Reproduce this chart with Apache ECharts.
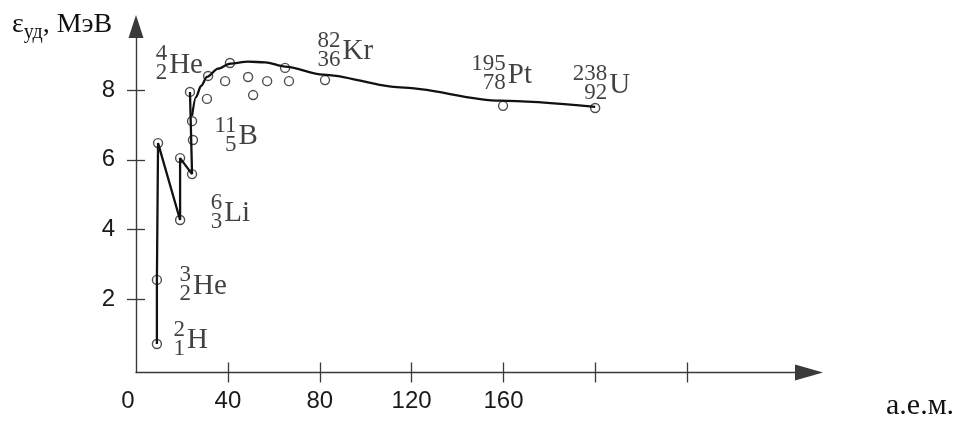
<!DOCTYPE html>
<html>
<head>
<meta charset="utf-8">
<script src="https://cdn.jsdelivr.net/npm/echarts@6/dist/echarts.min.js"></script>
<style>
  html, body { margin: 0; padding: 0; background: #fff; }
  #chart { width: 965px; height: 422px; }
</style>
</head>
<body>
<div id="chart"></div>
<script>
// ---- data ----
// stepped light-nuclei line (A, binding energy per nucleon, MeV)
const stepA = [9.1, 9.1, 9.6, 19.2, 19.2, 24.4, 23.5];
const stepE = [0.71, 2.55, 6.48, 4.27, 6.05, 5.59, 7.95];

// smooth curve
const curveA = [24.4, 26.1, 28.3, 30.9, 35.7, 40.9, 48.8, 56.3, 64.9, 81.4, 115.0, 158.5, 199.9];
const curveE = [7.26, 7.80, 8.12, 8.38, 8.62, 8.76, 8.82, 8.80, 8.68, 8.45, 8.08, 7.70, 7.52];

// unlabelled nuclei (circles)
const dotA = [9.6, 19.2, 24.4, 24.4, 31.4, 30.9, 38.8, 40.9, 48.8, 51.0, 57.1, 64.9, 66.6];
const dotE = [6.48, 6.05, 5.59, 7.11, 8.41, 7.75, 8.26, 8.78, 8.38, 7.86, 8.26, 8.64, 8.26];

// labelled nuclei
const isoA    = [9.1, 9.1, 19.2, 23.5, 24.8, 82.3, 159.8, 199.9];
const isoE    = [0.71, 2.55, 4.27, 7.95, 6.57, 8.29, 7.55, 7.49];
const isoMass = ['2', '3', '6', '4', '11', '82', '195', '238'];
const isoZ    = ['1', '2', '3', '2', '5', '36', '78', '92'];
const isoSym  = ['H', 'He', 'Li', 'He', 'B', 'Kr', 'Pt', 'U'];

// axis ticks / labels
const xTicks = [40, 80, 120, 160, 200, 240];
const xLabels = [0, 40, 80, 120, 160];
const yTicks = [2, 4, 6, 8];
const yLabels = [2, 4, 6, 8];
const yTitle = ['ε', 'уд', ', МэВ'];
const xTitle = 'а.е.м.';

// ---- layout / style (not data) ----
const labelOffsets = [[51, -24], [70, -14], [70, -27], [13, -47], [65, -24], [48, -49], [29, -51], [35, -43]];
const SERIF = "'Liberation Serif', 'Times New Roman', serif";
const SANS = "'Liberation Sans', Arial, sans-serif";
const INK = '#111';
const AXIS = '#3a3a3a';

const zip = (a, b) => a.map((v, i) => [v, b[i]]);

const isoData = isoA.map((a, i) => ({
  value: [a, isoE[i]],
  label: { offset: labelOffsets[i] },
  mass: isoMass[i], z: isoZ[i], sym: isoSym[i]
}));

const xr = { min: 0, max: 293 };
const yr = { min: -0.11, max: 9.83 };

const chart = echarts.init(document.getElementById('chart'), null, { renderer: 'canvas' });
chart.setOption({
  animation: false,
  backgroundColor: '#fff',
  title: [
    {
      left: 12, top: 10, padding: 0,
      text: '{e|' + yTitle[0] + '}{s|' + yTitle[1] + '}{t|' + yTitle[2] + '}',
      textStyle: {
        fontWeight: 'normal',
        rich: {
          e: { fontFamily: SERIF, fontSize: 28, fontWeight: 'normal', lineHeight: 30, color: INK },
          s: { fontFamily: SERIF, fontSize: 20, fontWeight: 'normal', lineHeight: 30, color: INK, padding: [16, 0, 0, 0] },
          t: { fontFamily: SERIF, fontSize: 28, fontWeight: 'normal', lineHeight: 30, color: INK }
        }
      }
    },
    {
      left: 886, top: 391, padding: 0,
      text: xTitle,
      textStyle: { fontFamily: SERIF, fontSize: 30, lineHeight: 30, fontWeight: 'normal', color: INK }
    }
  ],
  grid: { left: 136, right: 156, top: 26.5, bottom: 49.5, containLabel: false },
  xAxis: [
    {
      type: 'value', min: xr.min, max: xr.max,
      splitLine: { show: false },
      axisLine: { onZero: false, lineStyle: { color: AXIS, width: 1.4 }, symbol: ['none', 'triangle'], symbolSize: [16, 28] },
      axisTick: { show: true, length: 10, customValues: xTicks, lineStyle: { color: AXIS, width: 1.3 } },
      axisLabel: {
        customValues: xLabels, margin: 17, color: '#1a1a1a', fontFamily: SANS, fontSize: 24,
        formatter: v => v === 0 ? '{z|0}' : String(v),
        rich: { z: { fontFamily: SANS, fontSize: 24, color: '#1a1a1a', padding: [0, 16, 0, 0] } }
      }
    },
    {
      type: 'value', min: xr.min, max: xr.max, position: 'bottom',
      splitLine: { show: false },
      axisLine: { show: false, onZero: false },
      axisTick: { show: true, inside: true, length: 10, customValues: xTicks, lineStyle: { color: AXIS, width: 1.3 } },
      axisLabel: { show: false }
    }
  ],
  yAxis: [
    {
      type: 'value', min: yr.min, max: yr.max,
      splitLine: { show: false },
      axisLine: { onZero: false, lineStyle: { color: AXIS, width: 1.4 }, symbol: ['none', 'triangle'], symbolSize: [15, 23] },
      axisTick: { show: true, length: 9, customValues: yTicks, lineStyle: { color: AXIS, width: 1.3 } },
      axisLabel: { customValues: yLabels, margin: 21, color: '#1a1a1a', fontFamily: SANS, fontSize: 24 }
    },
    {
      type: 'value', min: yr.min, max: yr.max, position: 'left',
      splitLine: { show: false },
      axisLine: { show: false, onZero: false },
      axisTick: { show: true, inside: true, length: 9, customValues: yTicks, lineStyle: { color: AXIS, width: 1.3 } },
      axisLabel: { show: false }
    }
  ],
  series: [
    {
      name: 'steps', type: 'line', data: zip(stepA, stepE),
      symbol: 'none', silent: true,
      lineStyle: { color: INK, width: 2.3 }
    },
    {
      name: 'curve', type: 'line', data: zip(curveA, curveE),
      symbol: 'none', smooth: 0.3, smoothMonotone: 'x', silent: true,
      lineStyle: { color: INK, width: 2.3 }
    },
    {
      name: 'nuclei', type: 'scatter', data: zip(dotA, dotE),
      symbol: 'circle', symbolSize: 9, silent: true,
      itemStyle: { color: 'rgba(0,0,0,0)', borderColor: '#222', borderWidth: 1.4 }
    },
    {
      name: 'labelled', type: 'scatter', data: isoData,
      symbol: 'circle', symbolSize: 9, silent: true,
      itemStyle: { color: 'rgba(0,0,0,0)', borderColor: '#222', borderWidth: 1.4 },
      label: {
        show: true, position: 'inside', align: 'right', verticalAlign: 'top',
        formatter: p => '{n|' + p.data.mass + '}{g|' + p.data.sym + '}\n{n|' + p.data.z + '}{e|' + p.data.sym + '}',
        rich: {
          n: { fontFamily: SERIF, fontSize: 23, lineHeight: 19, color: INK, align: 'right', padding: [0, 2, 0, 0] },
          g: { fontFamily: SERIF, fontSize: 29, lineHeight: 19, color: 'rgba(0,0,0,0)', align: 'right' },
          e: { fontFamily: SERIF, fontSize: 29, lineHeight: 19, color: INK, align: 'right', padding: [0, 0, 16, 0] }
        }
      }
    }
  ]
});
</script>
</body>
</html>
